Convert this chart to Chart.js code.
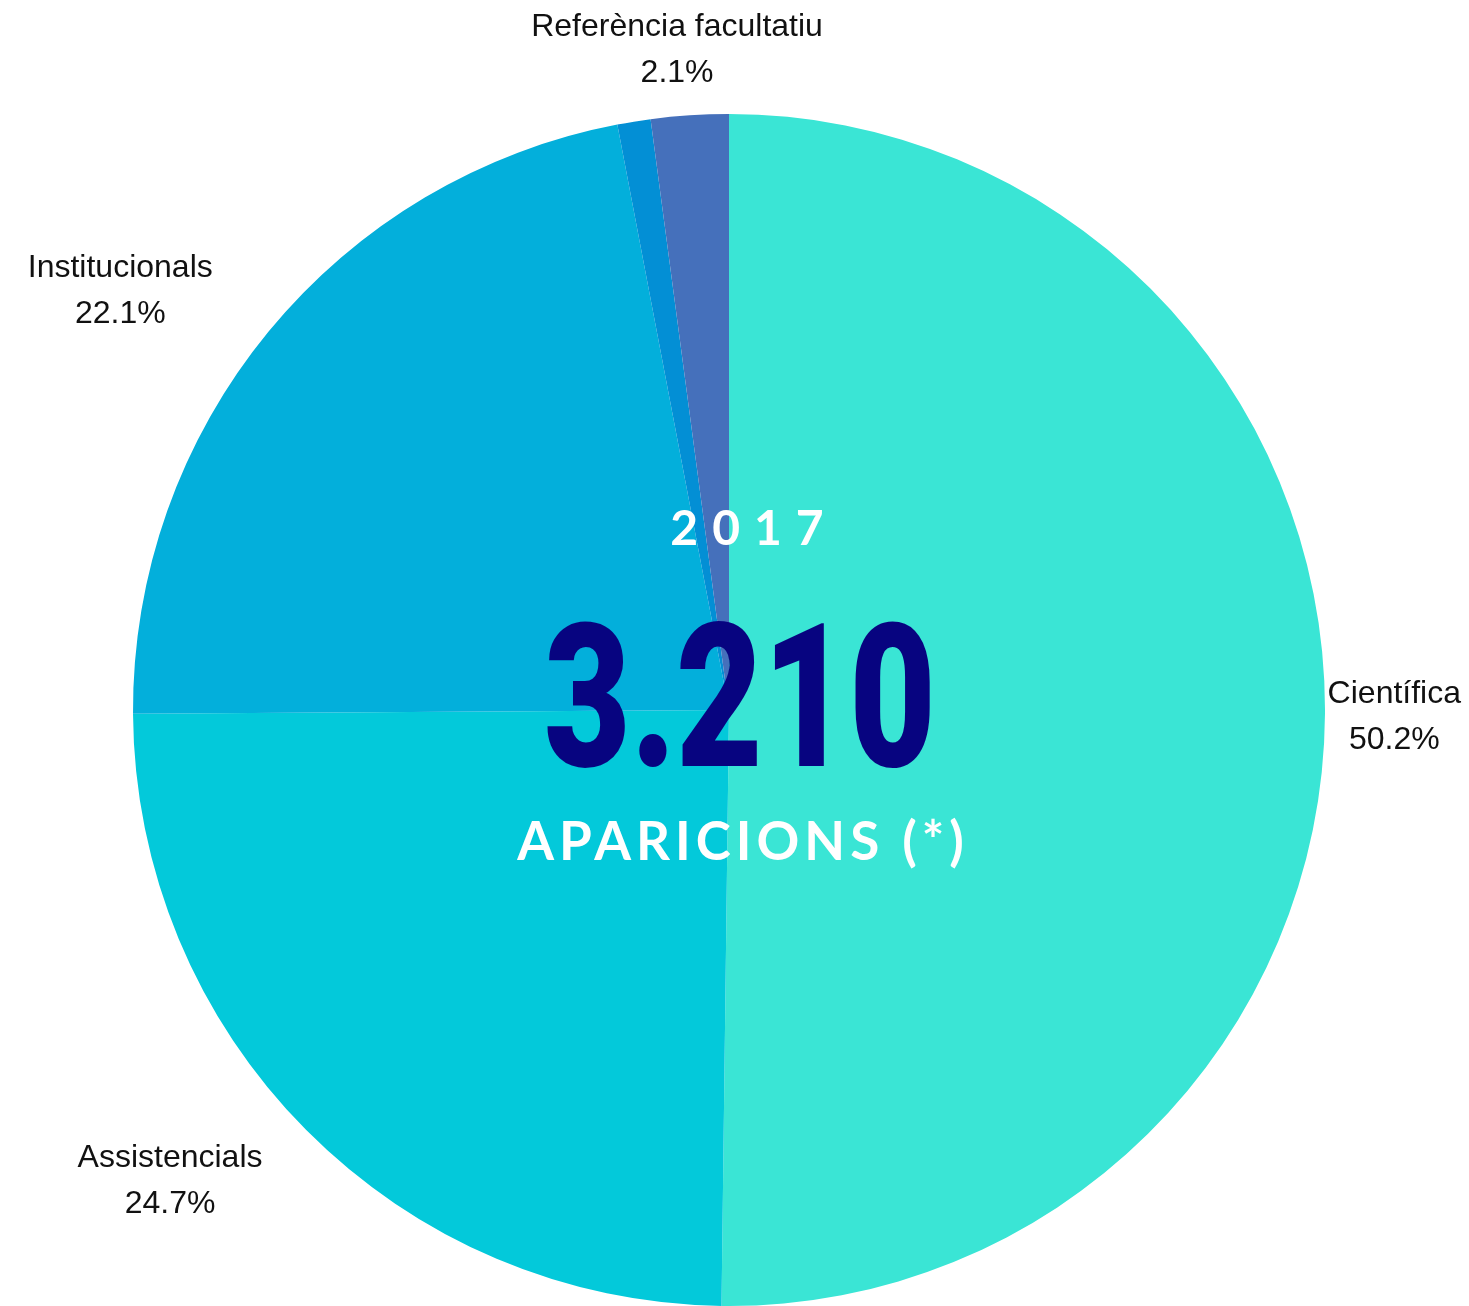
<!DOCTYPE html>
<html>
<head>
<meta charset="utf-8">
<script src="https://cdn.jsdelivr.net/npm/chart.js@4"></script>
<style>
  body { margin: 0; background: #fff; }
  canvas { display: block; }
</style>
</head>
<body>
<canvas id="myChart" width="1469" height="1306"></canvas>
<script>
var categories = ["Científica", "Assistencials", "Institucionals", "", "Referència facultatiu"];
var percentages = [50.2, 24.7, 22.1, 0.9, 2.1];
var sliceColors = ["#3ae5d5", "#03c9da", "#03afdb", "#038fd5", "#4570bb"];

var centerYear = "2017";
var centerTotal = "3.210";
var centerCaption = "APARICIONS (*)";

// labels outside the pie, clamped to the canvas edges
var outsideLabels = {
  id: "outsideLabels",
  afterDraw: function (chart) {
    var ctx = chart.ctx;
    var meta = chart.getDatasetMeta(0);
    ctx.save();
    ctx.font = "32px 'Liberation Sans', Arial, sans-serif";
    ctx.fillStyle = "#111";
    ctx.textAlign = "center";
    ctx.textBaseline = "middle";
    meta.data.forEach(function (arc, i) {
      if (!categories[i]) return;
      var p = arc.getProps(["x", "y", "startAngle", "endAngle", "outerRadius"], true);
      var mid = (p.startAngle + p.endAngle) / 2;
      var ax = p.x + (p.outerRadius + 192) * Math.cos(mid);
      var ay = p.y + 3 + (p.outerRadius + 68) * Math.sin(mid);
      var lines = [categories[i], percentages[i].toFixed(1) + "%"];
      var w = Math.max.apply(null, lines.map(function (l) { return ctx.measureText(l).width; }));
      var left = Math.min(Math.max(ax - w / 2, 8), chart.width - 8 - w);
      var cx = left + w / 2;
      ctx.fillText(lines[0], cx, ay - 23);
      ctx.fillText(lines[1], cx, ay + 23);
    });
    ctx.restore();
  }
};

// big text in the middle of the pie
var centerText = {
  id: "centerText",
  afterDraw: function (chart) {
    var ctx = chart.ctx;
    var arc = chart.getDatasetMeta(0).data[0];
    var cx = arc.x, cy = arc.y;
    ctx.save();
    ctx.textAlign = "center";
    ctx.textBaseline = "middle";

    ctx.fillStyle = "#fff";
    ctx.font = "bold 48px Lato, sans-serif";
    ctx.letterSpacing = "14px";
    ctx.fillText(centerYear, cx + 25, cy - 180);

    ctx.letterSpacing = "0px";
    ctx.fillStyle = "#070480";
    ctx.font = "900 200px Roboto, sans-serif";
    var tw = ctx.measureText(centerTotal).width;
    var sx = 392 / tw;
    ctx.save();
    ctx.translate(cx + 11, cy + 6);
    ctx.scale(sx, 1);
    ctx.fillText(centerTotal, 0, 0);
    ctx.restore();

    ctx.fillStyle = "#fff";
    ctx.font = "bold 53px Lato, sans-serif";
    ctx.letterSpacing = "5px";
    ctx.fillText(centerCaption, cx + 14, cy + 133);
    ctx.restore();
  }
};

new Chart("myChart", {
  type: "pie",
  data: {
    labels: categories,
    datasets: [{
      data: percentages,
      backgroundColor: sliceColors,
      borderWidth: 0
    }]
  },
  options: {
    responsive: false,
    animation: false,
    devicePixelRatio: 1,
    layout: { padding: { top: 114, left: 0, right: 11, bottom: 0 } },
    plugins: {
      legend: { display: false },
      tooltip: { enabled: false }
    }
  },
  plugins: [outsideLabels, centerText]
});
</script>
</body>
</html>
